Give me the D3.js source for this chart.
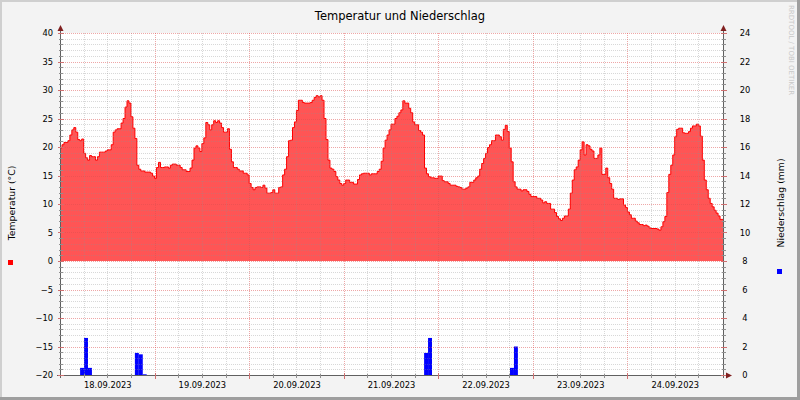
<!DOCTYPE html>
<html>
<head>
<meta charset="utf-8">
<script src="https://cdn.jsdelivr.net/npm/d3@7/dist/d3.min.js"></script>
<style>
  html, body { margin: 0; padding: 0; background: #f3f3f3; }
  svg { display: block; font-family: "DejaVu Sans", sans-serif; }
</style>
</head>
<body>
<svg id="chart"></svg>
<script>
// Temperature (°C), one value every 30 minutes, starting 18.09.2023 00:00
const temperature = [
  // 18.09
  19.8, 20.4, 20.8, 20.8, 21.1, 22.1, 23.0, 23.4, 22.6, 21.3, 21.1, 21.4,
  18.9, 18.1, 17.7, 18.5, 18.3, 18.3, 17.7, 18.3, 19.1, 19.1, 19.1, 19.3,
  19.5, 19.5, 20.4, 22.6, 23.0, 23.2, 23.2, 24.2, 25.0, 27.0, 28.1, 27.7,
  25.3, 23.3, 21.5, 16.8, 16.1, 15.8, 15.8, 15.6, 15.6, 15.6, 15.4, 14.9,
  // 19.09
  14.5, 16.4, 17.3, 16.4, 16.4, 16.5, 16.5, 16.3, 16.8, 17.0, 17.0, 16.8,
  16.8, 16.4, 16.0, 16.0, 15.7, 15.7, 16.3, 17.7, 19.8, 20.2, 19.8, 19.2,
  20.6, 21.6, 24.3, 23.9, 23.0, 23.9, 24.6, 24.3, 24.6, 24.2, 23.4, 22.6,
  22.6, 23.2, 19.6, 17.4, 16.4, 16.4, 16.1, 15.8, 15.8, 15.4, 15.4, 15.1,
  // 20.09
  13.6, 12.9, 12.5, 12.9, 13.0, 13.0, 12.9, 13.3, 12.8, 11.9, 11.9, 12.0,
  12.5, 11.9, 11.9, 12.9, 13.0, 15.1, 16.1, 18.3, 21.1, 21.2, 23.4, 24.4,
  26.4, 28.2, 28.2, 27.8, 27.7, 27.7, 27.7, 27.8, 28.2, 28.7, 29.0, 28.8,
  29.0, 28.2, 25.0, 21.3, 17.7, 16.3, 16.1, 15.7, 14.8, 14.2, 13.6, 13.3,
  // 21.09
  13.6, 14.2, 14.2, 13.8, 13.8, 13.5, 13.5, 14.3, 15.1, 15.3, 15.4, 15.4,
  15.4, 15.1, 15.3, 15.3, 15.3, 15.7, 16.1, 17.5, 19.8, 21.2, 22.1, 23.0,
  24.0, 24.0, 25.0, 25.4, 26.0, 26.5, 28.1, 27.7, 27.7, 26.8, 26.0, 24.4,
  23.9, 23.9, 22.9, 22.6, 22.1, 16.3, 15.3, 14.8, 14.6, 14.6, 14.5, 14.5,
  // 22.09
  14.9, 14.9, 14.1, 13.9, 13.9, 13.6, 13.3, 13.3, 13.3, 13.1, 13.0, 12.9,
  12.6, 12.6, 12.8, 13.0, 13.8, 13.8, 14.2, 14.6, 14.9, 16.1, 17.1, 18.0,
  18.9, 19.9, 20.4, 21.1, 21.1, 22.1, 22.1, 21.8, 21.2, 23.1, 23.8, 22.7,
  19.8, 17.4, 13.9, 13.0, 12.6, 12.6, 12.3, 12.5, 12.5, 12.2, 11.7, 11.3,
  // 23.09
  11.3, 11.3, 11.0, 11.0, 10.7, 10.2, 10.4, 10.1, 10.1,  9.1,  9.1,  8.5,
   7.8,  7.4,  7.1,  7.5,  7.9,  7.9,  9.1, 11.9, 14.2, 16.0, 16.5, 17.7,
  19.5, 20.9, 18.6, 20.4, 20.2, 19.6, 19.3, 18.0, 18.0, 18.6, 19.8, 15.2,
  15.2, 16.3, 14.6, 13.6, 12.6, 11.0, 11.0, 10.8, 10.9, 10.9,  9.8,  9.4,
  // 24.09
   8.6,  8.1,  7.5,  7.5,  7.0,  6.7,  6.4,  6.4,  6.2,  6.3,  6.1,  5.8,
   5.7,  5.7,  5.7,  5.6,  5.4,  6.0,  6.9,  7.8, 12.0, 15.2, 16.8, 18.6,
  21.8, 23.1, 23.3, 23.3, 22.5, 22.4, 22.4, 22.7, 23.3, 23.7, 23.7, 24.0,
  23.7, 21.9, 17.7, 14.2, 12.5, 11.0, 10.1,  9.5,  8.9,  8.4,  7.9,  7.3
];
const tempStepHours = 0.5;

// Precipitation (mm per hour), start hour counted from 18.09.2023 00:00
const rainHours   = [5.1, 6.1, 7.1, 19.0, 20.0, 21.0, 92.4, 93.4, 114.2, 115.2];
const rainAmounts = [0.5, 2.6, 0.5, 1.55, 1.45, 0.05, 1.55, 2.6, 0.5, 2.0];

const dayLabels = ["18.09.2023", "19.09.2023", "20.09.2023", "21.09.2023",
                   "22.09.2023", "23.09.2023", "24.09.2023"];
const tempTicks = [-20, -15, -10, -5, 0, 5, 10, 15, 20, 25, 30, 35, 40];
const rainTicks = [0, 2, 4, 6, 8, 10, 12, 14, 16, 18, 20, 22, 24];

const width  = 800;
const height = 400;
const margin = { top: 33, right: 77, bottom: 25, left: 61 };
const plotR  = width - margin.right;
const plotB  = height - margin.bottom;

const svg = d3.select("#chart")
    .attr("width", width)
    .attr("height", height)
    .attr("viewBox", [0, 0, width, height]);

// Scales.
const x  = d3.scaleLinear().domain([0.25, 168.25]).range([margin.left, plotR]);
const yT = d3.scaleLinear().domain([-20, 40]).range([plotB, margin.top]);
const yR = d3.scaleLinear().domain([0, 24]).range([plotB, margin.top]);

// Background, 3D frame and canvas.
svg.append("rect").attr("width", width).attr("height", height).attr("fill", "#f3f3f3");
svg.append("rect").attr("x", 0).attr("y", 0).attr("width", width).attr("height", 2).attr("fill", "#cfcfcf");
svg.append("rect").attr("x", 0).attr("y", 0).attr("width", 2).attr("height", height).attr("fill", "#cfcfcf");
svg.append("rect").attr("x", 0).attr("y", height - 3).attr("width", width).attr("height", 3).attr("fill", "#9e9e9e");
svg.append("rect").attr("x", width - 3).attr("y", 0).attr("width", 3).attr("height", height).attr("fill", "#9e9e9e");
svg.append("rect")
    .attr("x", margin.left).attr("y", margin.top)
    .attr("width", plotR - margin.left).attr("height", plotB - margin.top)
    .attr("fill", "#ffffff");

svg.append("clipPath").attr("id", "plotclip")
  .append("rect")
    .attr("x", margin.left).attr("y", margin.top)
    .attr("width", plotR - margin.left).attr("height", plotB - margin.top);

const plot = svg.append("g").attr("clip-path", "url(#plotclip)");

// Temperature area + line.
const tempPoints = temperature.map((v, i) => [i * tempStepHours, v]);
tempPoints.push([x.domain()[1], temperature[temperature.length - 1]]);

plot.append("path")
    .datum(tempPoints)
    .attr("fill", "#ff5555")
    .attr("d", d3.area()
        .curve(d3.curveStepAfter)
        .x(d => x(d[0]))
        .y0(yT(0))
        .y1(d => yT(d[1])));

plot.append("path")
    .datum(tempPoints)
    .attr("fill", "none")
    .attr("stroke", "#ff0000")
    .attr("stroke-width", 1)
    .attr("d", d3.line()
        .curve(d3.curveStepAfter)
        .x(d => x(d[0]))
        .y(d => yT(d[1])));

// Precipitation bars (right axis).
plot.append("g")
    .attr("fill", "#0000ff")
  .selectAll("rect")
  .data(rainHours.map((h, i) => ({ h, v: rainAmounts[i] })))
  .join("rect")
    .attr("x", d => x(d.h))
    .attr("width", d => x(d.h + 1) - x(d.h))
    .attr("y", d => yR(d.v))
    .attr("height", d => yR(0) - yR(d.v));

// Grid (drawn over the graph, like rrdtool).
const snap = v => Math.round(v) + 0.5;
const minorT = d3.range(-19, 40).filter(v => v % 5 !== 0);
const minorH = d3.range(6, 168, 6).filter(h => h % 24 !== 0);
const majorH = d3.range(24, 168, 24);

const grid = svg.append("g")
    .attr("stroke-dasharray", "1,1")
    .attr("shape-rendering", "crispEdges");

grid.append("g")
    .attr("stroke", "#8f8f8f").attr("stroke-opacity", 0.35)
  .selectAll("line")
  .data(minorT)
  .join("line")
    .attr("x1", margin.left).attr("x2", plotR)
    .attr("y1", d => snap(yT(d))).attr("y2", d => snap(yT(d)));

grid.append("g")
    .attr("stroke", "#8f8f8f").attr("stroke-opacity", 0.35)
  .selectAll("line")
  .data(minorH)
  .join("line")
    .attr("y1", margin.top).attr("y2", plotB)
    .attr("x1", d => snap(x(d))).attr("x2", d => snap(x(d)));

grid.append("g")
    .attr("stroke", "#de5050").attr("stroke-opacity", 0.5)
  .selectAll("line")
  .data(tempTicks.filter(v => v !== -20))
  .join("line")
    .attr("x1", margin.left).attr("x2", plotR)
    .attr("y1", d => snap(yT(d))).attr("y2", d => snap(yT(d)));

grid.append("g")
    .attr("stroke", "#de5050").attr("stroke-opacity", 0.5)
  .selectAll("line")
  .data(majorH)
  .join("line")
    .attr("y1", margin.top).attr("y2", plotB)
    .attr("x1", d => snap(x(d))).attr("x2", d => snap(x(d)));

// Axes lines + arrows.
const axisColor  = "#606060";
const arrowColor = "#802020";
const ax = svg.append("g").attr("shape-rendering", "crispEdges").attr("stroke", axisColor);
ax.append("line").attr("x1", margin.left - 0.5).attr("x2", margin.left - 0.5).attr("y1", plotB + 3).attr("y2", margin.top - 4);
ax.append("line").attr("x1", plotR + 0.5).attr("x2", plotR + 0.5).attr("y1", plotB + 3).attr("y2", margin.top - 4);
ax.append("line").attr("x1", margin.left - 4).attr("x2", plotR + 5).attr("y1", plotB + 0.5).attr("y2", plotB + 0.5);

// small ticks on the axes
ax.append("g").attr("stroke", "#909090")
  .selectAll("line").data(minorT).join("line")
    .attr("x1", margin.left - 2.5).attr("x2", margin.left + 1.5)
    .attr("y1", d => snap(yT(d))).attr("y2", d => snap(yT(d)));
ax.append("g").attr("stroke", "#909090")
  .selectAll("line").data(minorT).join("line")
    .attr("x1", plotR - 1.5).attr("x2", plotR + 2.5)
    .attr("y1", d => snap(yT(d))).attr("y2", d => snap(yT(d)));
ax.append("g").attr("stroke", "#d07070")
  .selectAll("line").data(tempTicks).join("line")
    .attr("x1", margin.left - 3.5).attr("x2", margin.left + 2.5)
    .attr("y1", d => snap(yT(d))).attr("y2", d => snap(yT(d)));
ax.append("g").attr("stroke", "#d07070")
  .selectAll("line").data(rainTicks).join("line")
    .attr("x1", plotR - 2.5).attr("x2", plotR + 3.5)
    .attr("y1", d => snap(yR(d))).attr("y2", d => snap(yR(d)));
ax.append("g").attr("stroke", "#909090")
  .selectAll("line").data(minorH).join("line")
    .attr("y1", plotB - 1.5).attr("y2", plotB + 2.5)
    .attr("x1", d => snap(x(d))).attr("x2", d => snap(x(d)));
ax.append("g").attr("stroke", "#d07070")
  .selectAll("line").data(majorH).join("line")
    .attr("y1", plotB - 2.5).attr("y2", plotB + 3.5)
    .attr("x1", d => snap(x(d))).attr("x2", d => snap(x(d)));

const arrows = svg.append("g").attr("fill", arrowColor);
arrows.append("path").attr("d", `M${margin.left - 3.5},${margin.top - 2} L${margin.left - 0.5},${margin.top - 8} L${margin.left + 2.5},${margin.top - 2} Z`);
arrows.append("path").attr("d", `M${plotR - 2.5},${margin.top - 2} L${plotR + 0.5},${margin.top - 8} L${plotR + 3.5},${margin.top - 2} Z`);
arrows.append("path").attr("d", `M${plotR + 3},${plotB - 2.5} L${plotR + 9},${plotB + 0.5} L${plotR + 3},${plotB + 3.5} Z`);

// Tick labels.
const tickFont = "8.3px";

svg.append("g")
    .attr("transform", `translate(${margin.left},0)`)
    .call(d3.axisLeft(yT).tickValues(tempTicks).tickSize(0).tickPadding(8))
    .call(g => g.select(".domain").remove())
    .call(g => g.selectAll("text").attr("font-size", tickFont).attr("font-family", "DejaVu Sans").attr("fill", "#000"));

svg.append("g")
    .attr("transform", `translate(${plotR},0)`)
    .call(d3.axisRight(yR).tickValues(rainTicks).tickSize(0))
    .call(g => g.select(".domain").remove())
    .call(g => g.selectAll("text")
        .attr("x", 22).attr("text-anchor", "middle")
        .attr("font-size", tickFont).attr("font-family", "DejaVu Sans").attr("fill", "#000"));

svg.append("g")
    .attr("transform", `translate(0,${plotB})`)
    .call(d3.axisBottom(x)
        .tickValues(dayLabels.map((d, i) => 12 + 24 * i))
        .tickFormat((d, i) => dayLabels[i])
        .tickSize(0).tickPadding(7))
    .call(g => g.select(".domain").remove())
    .call(g => g.selectAll("text").attr("font-size", tickFont).attr("font-family", "DejaVu Sans").attr("fill", "#000"));

// Title, unit labels, legend squares, watermark.
svg.append("text")
    .attr("x", 400).attr("y", 20)
    .attr("text-anchor", "middle")
    .attr("font-size", "11.5px")
    .text("Temperatur und Niederschlag");

svg.append("text")
    .attr("transform", "translate(14.5,203) rotate(-90)")
    .attr("text-anchor", "middle")
    .attr("font-size", "9.3px")
    .text("Temperatur (°C)");

svg.append("text")
    .attr("transform", "translate(783.5,203) rotate(-90)")
    .attr("text-anchor", "middle")
    .attr("font-size", "9.3px")
    .text("Niederschlag (mm)");

svg.append("rect").attr("x", 8).attr("y", 260).attr("width", 5).attr("height", 5).attr("fill", "#ff0000");
svg.append("rect").attr("x", 777).attr("y", 269).attr("width", 5).attr("height", 5).attr("fill", "#0000ff");

svg.append("text")
    .attr("transform", "translate(788.5,5) rotate(90)")
    .attr("font-size", "7px")
    .attr("fill", "#c8c8c8")
    .text("RRDTOOL / TOBI OETIKER");
</script>
</body>
</html>
